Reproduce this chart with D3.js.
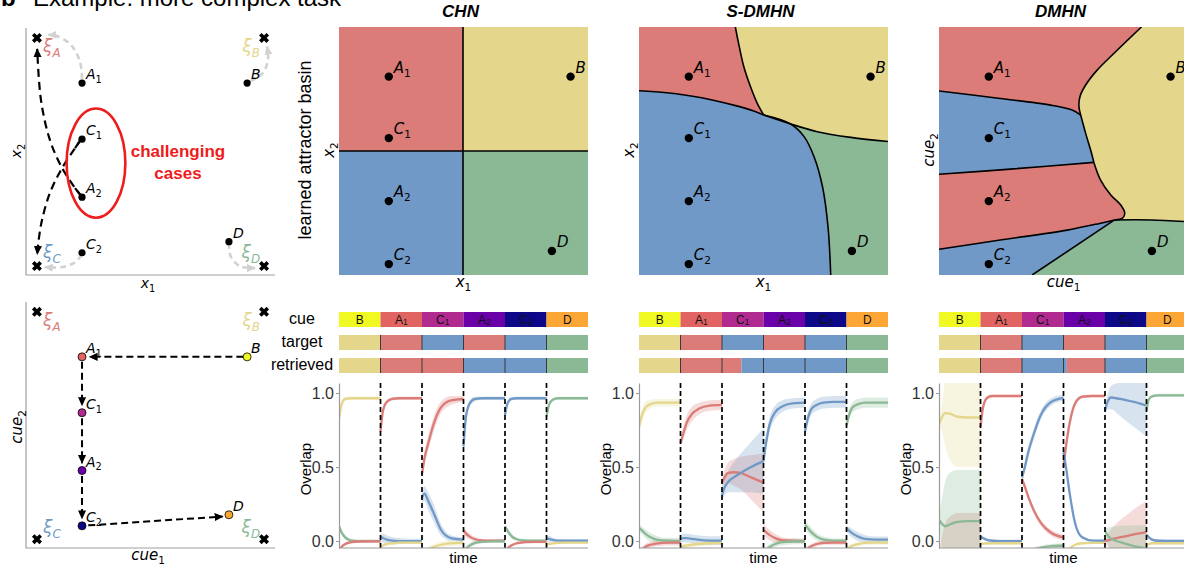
<!DOCTYPE html>
<html lang="en">
<head>
<meta charset="UTF-8">
<title>more complex task</title>
<script src="https://d3js.org/d3.v7.min.js"></script>
<style>
    body { margin: 0; background: #fff; }
    svg { display: block; font-family: "Liberation Sans", Arial, sans-serif; }
    .math { font-family: "DejaVu Sans", sans-serif; font-style: italic; }
</style>
</head>
<body>
<svg width="1184" height="566"></svg>
<script>
// ---------- data ----------
const patterns = ["A", "B", "C", "D"];
const patternColors = ["#db7c78", "#e4d68b", "#7199c7", "#8bb996"];

const pointNames = ["A1", "B", "C1", "A2", "C2", "D"];
const pointPlasma = [0.6, 1.0, 0.4, 0.2, 0.0, 0.8];
// sketch panels (left column)
const sketchX = [0.225, 0.888, 0.225, 0.225, 0.225, 0.815];
const sketchY = [0.777, 0.777, 0.55, 0.315, 0.09, 0.135];
const xiX = [0.044, 0.956, 0.044, 0.956];
const xiY = [0.96, 0.96, 0.036, 0.036];
// basin panels
const basinX = [0.2, 0.93, 0.2, 0.2, 0.2, 0.855];
const basinY = [0.8, 0.8, 0.552, 0.298, 0.044, 0.097];

// top-left sketch: drift paths
const grayPaths = [
    [[0.225, 0.794], [0.217, 0.862], [0.181, 0.931], [0.124, 0.968], [0.09, 0.972]],
    [[0.9, 0.785], [0.948, 0.814], [0.972, 0.87], [0.968, 0.925]],
    [[0.225, 0.081], [0.193, 0.049], [0.145, 0.032], [0.075, 0.032]],
    [[0.815, 0.13], [0.823, 0.073], [0.859, 0.036], [0.92, 0.028]]
];
const blackPaths = [
    [[0.225, 0.316], [0.197, 0.352], [0.145, 0.433], [0.096, 0.547], [0.06, 0.709], [0.045, 0.915]],
    [[0.225, 0.555], [0.197, 0.514], [0.145, 0.433], [0.096, 0.332], [0.06, 0.202], [0.045, 0.085]]
];
const hardCases = { cx: 0.281, cy: 0.453, rx: 0.118, ry: 0.221 };
// bottom-left sketch: cue sequence arrows
const cueArrows = [
    [[0.873, 0.777], [0.255, 0.777]],
    [[0.225, 0.757], [0.225, 0.58]],
    [[0.225, 0.527], [0.225, 0.345]],
    [[0.225, 0.293], [0.225, 0.12]],
    [[0.25, 0.092], [0.79, 0.128]]
];

// basin boundaries
const chnV = [[0.498, 0], [0.498, 1]];
const chnH = [[0, 0.5], [1, 0.5]];

const sdRY = [[0.387, 1], [0.4, 0.934], [0.421, 0.84], [0.448, 0.759], [0.475, 0.692], [0.501, 0.645]];
const sdRB = [[0, 0.743], [0.112, 0.735], [0.246, 0.716], [0.38, 0.685], [0.461, 0.661], [0.501, 0.645]];
const sdYG = [[0.501, 0.645], [0.609, 0.609], [0.716, 0.578], [0.851, 0.555], [1, 0.538]];
const sdBG = [[0.501, 0.645], [0.609, 0.609], [0.663, 0.558], [0.703, 0.477], [0.737, 0.356], [0.759, 0.195], [0.77, 0]];

const dmY1 = [[0.813, 1], [0.703, 0.894], [0.636, 0.827], [0.589, 0.766], [0.566, 0.719], [0.562, 0.679], [0.569, 0.645]];
const dmY2 = [[0.569, 0.645], [0.589, 0.571], [0.609, 0.504], [0.622, 0.454]];
const dmY3 = [[0.622, 0.454], [0.649, 0.383], [0.69, 0.323], [0.73, 0.282], [0.746, 0.249], [0.737, 0.229], [0.705, 0.222]];
const dmYG = [[0.705, 0.222], [0.851, 0.222], [1, 0.215]];
const dmAC1 = [[0, 0.742], [0.246, 0.712], [0.448, 0.685], [0.535, 0.665], [0.569, 0.645]];
const dmCA2 = [[0, 0.406], [0.3, 0.428], [0.622, 0.454]];
const dmAC2 = [[0, 0.104], [0.246, 0.141], [0.515, 0.181], [0.645, 0.208], [0.705, 0.222]];
const dmCG = [[0.705, 0.222], [0.374, 0]];

// cue sequence
const cueLabels = ["B", "A1", "C1", "A2", "C2", "D"];
const cuePlasma = [1.0, 0.6, 0.4, 0.2, 0.0, 0.8];
const targets = ["B", "A", "C", "A", "C", "D"];
const retrievedCHN = [[0, 1, "B"], [1, 2, "A"], [2, 3, "A"], [3, 4, "C"], [4, 5, "C"], [5, 6, "D"]];
const retrievedSDMHN = [[0, 1, "B"], [1, 2, "A"], [2, 2.47, "A"], [2.47, 3, "C"], [3, 4, "C"], [4, 5, "C"], [5, 6, "D"]];
const retrievedDMHN = [[0, 1, "B"], [1, 2, "A"], [2, 3, "C"], [3, 3.08, "C"], [3.08, 4, "A"], [4, 5, "C"], [5, 6, "D"]];

// overlap traces: [segment, pattern, mean at tFrac, spread at tFrac]
const tFrac = [0, 0.06, 0.15, 0.28, 0.45, 0.7, 1];
const overlapCHN = [
    [0, "B", [0.82, 0.92, 0.96, 0.965, 0.965, 0.965, 0.965], [0.03, 0.02, 0.015, 0.01, 0.01, 0.01, 0.01]],
    [0, "D", [0.1, 0.06, 0.025, 0.005, 0, 0, 0], [0.015, 0.015, 0.015, 0.012, 0.01, 0.01, 0.01]],
    [0, "A", [-0.07, -0.04, -0.02, -0.008, -0.003, -0.002, -0.002], [0.01, 0.01, 0.01, 0.01, 0.01, 0.01, 0.01]],
    [1, "A", [0.74, 0.88, 0.94, 0.96, 0.965, 0.965, 0.965], [0.02, 0.02, 0.015, 0.01, 0.01, 0.01, 0.01]],
    [1, "C", [0.03, 0.02, 0.01, 0.003, 0, 0, 0], [0.02, 0.03, 0.03, 0.025, 0.02, 0.015, 0.015]],
    [1, "B", [-0.035, -0.03, -0.02, -0.015, -0.01, -0.01, -0.01], [0.01, 0.01, 0.01, 0.01, 0.01, 0.01, 0.01]],
    [2, "A", [0.45, 0.56, 0.66, 0.79, 0.9, 0.95, 0.96], [0.02, 0.04, 0.05, 0.05, 0.04, 0.03, 0.02]],
    [2, "C", [0.29, 0.32, 0.27, 0.19, 0.08, 0.02, 0.01], [0.03, 0.05, 0.06, 0.06, 0.04, 0.02, 0.015]],
    [2, "B", [-0.09, -0.08, -0.06, -0.04, -0.025, -0.015, -0.01], [0.02, 0.02, 0.02, 0.02, 0.02, 0.02, 0.02]],
    [3, "C", [0.64, 0.84, 0.93, 0.96, 0.965, 0.965, 0.965], [0.02, 0.03, 0.02, 0.015, 0.01, 0.01, 0.01]],
    [3, "A", [0.07, 0.05, 0.03, 0.012, 0.004, 0.002, 0.002], [0.02, 0.025, 0.02, 0.015, 0.01, 0.01, 0.01]],
    [3, "D", [-0.07, -0.05, -0.03, -0.012, -0.005, -0.002, -0.002], [0.015, 0.015, 0.015, 0.015, 0.01, 0.01, 0.01]],
    [4, "C", [0.85, 0.93, 0.96, 0.965, 0.965, 0.965, 0.965], [0.015, 0.015, 0.012, 0.01, 0.01, 0.01, 0.01]],
    [4, "D", [0.1, 0.07, 0.035, 0.012, 0.004, 0.002, 0.002], [0.015, 0.015, 0.015, 0.012, 0.01, 0.01, 0.01]],
    [4, "A", [-0.07, -0.05, -0.03, -0.015, -0.008, -0.005, -0.005], [0.01, 0.01, 0.01, 0.01, 0.01, 0.01, 0.01]],
    [5, "D", [0.84, 0.92, 0.955, 0.965, 0.965, 0.965, 0.965], [0.015, 0.015, 0.012, 0.01, 0.01, 0.01, 0.01]],
    [5, "C", [0.02, 0.015, 0.008, 0.003, 0.002, 0.002, 0.002], [0.02, 0.02, 0.015, 0.01, 0.01, 0.01, 0.01]],
    [5, "B", [-0.02, -0.02, -0.015, -0.012, -0.01, -0.01, -0.01], [0.01, 0.01, 0.01, 0.01, 0.01, 0.01, 0.01]]
];
const overlapSDMHN = [
    [0, "B", [0.77, 0.84, 0.9, 0.925, 0.935, 0.935, 0.935], [0.03, 0.04, 0.04, 0.03, 0.025, 0.025, 0.025]],
    [0, "D", [0.09, 0.075, 0.05, 0.025, 0.008, 0.002, 0], [0.02, 0.025, 0.03, 0.03, 0.025, 0.02, 0.02]],
    [0, "A", [-0.07, -0.06, -0.04, -0.025, -0.015, -0.01, -0.01], [0.02, 0.02, 0.02, 0.02, 0.02, 0.02, 0.02]],
    [1, "A", [0.66, 0.72, 0.8, 0.86, 0.895, 0.915, 0.92], [0.02, 0.04, 0.05, 0.05, 0.04, 0.035, 0.035]],
    [1, "C", [0.015, 0.02, 0.02, 0.015, 0.008, 0.003, 0.002], [0.03, 0.03, 0.03, 0.03, 0.03, 0.03, 0.03]],
    [1, "B", [-0.04, -0.035, -0.03, -0.025, -0.02, -0.015, -0.012], [0.015, 0.015, 0.015, 0.015, 0.015, 0.015, 0.015]],
    [2, "A", [0.39, 0.43, 0.46, 0.465, 0.46, 0.43, 0.395], [0.03, 0.05, 0.07, 0.09, 0.11, 0.15, 0.2]],
    [2, "C", [0.31, 0.36, 0.4, 0.43, 0.46, 0.5, 0.54], [0.03, 0.05, 0.07, 0.1, 0.13, 0.17, 0.22]],
    [3, "C", [0.54, 0.66, 0.79, 0.87, 0.91, 0.93, 0.935], [0.05, 0.05, 0.05, 0.045, 0.04, 0.035, 0.035]],
    [3, "A", [0.075, 0.06, 0.04, 0.02, 0.006, 0.002, 0], [0.04, 0.04, 0.035, 0.03, 0.02, 0.015, 0.015]],
    [3, "D", [-0.08, -0.06, -0.04, -0.02, -0.008, -0.003, -0.002], [0.02, 0.02, 0.02, 0.02, 0.02, 0.02, 0.02]],
    [4, "C", [0.74, 0.82, 0.89, 0.92, 0.935, 0.94, 0.94], [0.04, 0.04, 0.04, 0.04, 0.04, 0.04, 0.04]],
    [4, "D", [0.11, 0.09, 0.06, 0.03, 0.01, 0.003, 0.002], [0.02, 0.03, 0.03, 0.025, 0.02, 0.015, 0.015]],
    [4, "A", [-0.07, -0.05, -0.035, -0.02, -0.012, -0.01, -0.01], [0.015, 0.015, 0.015, 0.015, 0.015, 0.015, 0.015]],
    [5, "D", [0.78, 0.85, 0.905, 0.925, 0.935, 0.935, 0.935], [0.035, 0.035, 0.035, 0.035, 0.035, 0.035, 0.035]],
    [5, "C", [0.085, 0.07, 0.05, 0.03, 0.015, 0.01, 0.01], [0.02, 0.025, 0.03, 0.03, 0.025, 0.02, 0.02]],
    [5, "B", [-0.06, -0.045, -0.03, -0.02, -0.012, -0.01, -0.01], [0.015, 0.015, 0.015, 0.015, 0.015, 0.015, 0.015]]
];
const overlapDMHN = [
    [0, "A", [-0.08, -0.08, -0.08, -0.08, -0.08, -0.08, -0.08], [0.02, 0.1, 0.2, 0.25, 0.27, 0.27, 0.27]],
    [0, "B", [0.79, 0.83, 0.865, 0.86, 0.84, 0.835, 0.835], [0.03, 0.08, 0.22, 0.32, 0.34, 0.335, 0.335]],
    [0, "D", [0.145, 0.12, 0.1, 0.115, 0.13, 0.135, 0.135], [0.02, 0.15, 0.3, 0.35, 0.35, 0.345, 0.345]],
    [1, "A", [0.77, 0.9, 0.965, 0.98, 0.98, 0.98, 0.98], [0.02, 0.015, 0.01, 0.008, 0.008, 0.008, 0.008]],
    [1, "C", [0.03, 0.02, 0.008, 0.002, 0, 0, 0], [0.01, 0.01, 0.01, 0.01, 0.01, 0.01, 0.01]],
    [1, "B", [-0.02, -0.018, -0.015, -0.015, -0.015, -0.015, -0.015], [0.008, 0.008, 0.008, 0.008, 0.008, 0.008, 0.008]],
    [2, "C", [0.43, 0.49, 0.6, 0.72, 0.85, 0.94, 0.968], [0.02, 0.03, 0.035, 0.035, 0.03, 0.025, 0.02]],
    [2, "A", [0.42, 0.375, 0.3, 0.21, 0.124, 0.056, 0.024], [0.02, 0.02, 0.02, 0.02, 0.02, 0.02, 0.02]],
    [2, "D", [-0.12, -0.11, -0.09, -0.06, -0.045, -0.035, -0.03], [0.015, 0.015, 0.015, 0.015, 0.015, 0.015, 0.015]],
    [3, "A", [0.5, 0.64, 0.8, 0.93, 0.975, 0.98, 0.98], [0.03, 0.04, 0.035, 0.02, 0.01, 0.008, 0.008]],
    [3, "C", [0.6, 0.5, 0.32, 0.12, 0.025, 0.003, 0.002], [0.03, 0.03, 0.03, 0.02, 0.01, 0.008, 0.008]],
    [3, "B", [-0.1, -0.08, -0.05, -0.025, -0.015, -0.012, -0.012], [0.008, 0.008, 0.008, 0.008, 0.008, 0.008, 0.008]],
    [4, "C", [0.88, 0.94, 0.97, 0.965, 0.955, 0.94, 0.915], [0.03, 0.05, 0.08, 0.1, 0.13, 0.17, 0.21]],
    [4, "A", [0, 0.005, 0.012, 0.02, 0.03, 0.045, 0.06], [0.01, 0.04, 0.07, 0.1, 0.13, 0.17, 0.21]],
    [4, "D", [0.07, 0.04, 0.016, 0, -0.015, -0.035, -0.05], [0.02, 0.05, 0.08, 0.1, 0.12, 0.14, 0.16]],
    [5, "D", [0.88, 0.96, 0.98, 0.985, 0.985, 0.985, 0.985], [0.01, 0.01, 0.01, 0.01, 0.01, 0.01, 0.01]],
    [5, "C", [0.045, 0.025, 0.008, 0.002, 0.001, 0.001, 0.001], [0.01, 0.01, 0.01, 0.01, 0.01, 0.01, 0.01]],
    [5, "B", [-0.03, -0.02, -0.015, -0.015, -0.015, -0.015, -0.015], [0.008, 0.008, 0.008, 0.008, 0.008, 0.008, 0.008]]
];
const overlapTicks = [0, 0.5, 1];

// ---------- drawing ----------
const svg = d3.select("svg");
const defs = svg.append("defs");
const colorOf = p => patternColors[patterns.indexOf(p)];

function arrowMarker(id, color) {
    defs.append("marker").attr("id", id)
        .attr("viewBox", "0 0 10 10").attr("refX", 9).attr("refY", 5)
        .attr("markerWidth", 9).attr("markerHeight", 9)
        .attr("markerUnits", "userSpaceOnUse").attr("orient", "auto")
        .append("path").attr("d", "M0,0.5L10,5L0,9.5Z").attr("fill", color);
}
arrowMarker("headBlack", "#000");
arrowMarker("headGray", "#d2d2d2");

function mathText(g, x, y, base, subscript, size, color, anchor, rotate) {
    const t = g.append("text").attr("class", "math")
        .style("font-size", size + "px")
        .attr("fill", color || "#000")
        .attr("text-anchor", anchor || "start");
    if (rotate) t.attr("transform", `translate(${x},${y}) rotate(-90)`);
    else t.attr("x", x).attr("y", y);
    t.append("tspan").text(base);
    if (subscript) {
        t.append("tspan").attr("dy", size * 0.28)
            .style("font-size", (size * 0.7) + "px")
            .style("font-style", /^\d$/.test(subscript) ? "normal" : "italic")
            .text(subscript);
    }
    return t;
}

// title (cut at the top edge)
svg.append("text").attr("x", 1).attr("y", 6).style("font-size", "24px").style("font-weight", "bold").text("b");
svg.append("text").attr("x", 33).attr("y", 6).style("font-size", "24px").text("Example: more complex task");

// ---- left column sketches ----
const sx = d3.scaleLinear().domain([0, 1]).range([26, 275]);

function sketchFrame(top, bottom) {
    const y = d3.scaleLinear().domain([0, 1]).range([bottom, top]);
    const g = svg.append("g");
    g.append("path")
        .attr("d", `M${sx(0)},${y(1)}V${y(0)}H${sx(1)}`)
        .attr("fill", "none").attr("stroke", "#a0a0a0").attr("stroke-width", 1.2);
    const cross = d3.symbol(d3.symbolTimes, 38);
    g.selectAll("path.xi").data(patterns).join("path").attr("class", "xi")
        .attr("transform", (d, i) => `translate(${sx(xiX[i])},${y(xiY[i])})`)
        .attr("d", cross).attr("stroke", "#000").attr("stroke-width", 3.6).attr("fill", "none");
    return { g, y };
}

// top-left: x space
{
    const { g, y } = sketchFrame(28, 275);
    const curve = d3.line().x(d => sx(d[0])).y(d => y(d[1])).curve(d3.curveCatmullRom);
    g.selectAll("path.gray").data(grayPaths).join("path").attr("class", "gray")
        .attr("d", curve).attr("fill", "none").attr("stroke", "#d2d2d2")
        .attr("stroke-width", 2.6).attr("stroke-dasharray", "6,4")
        .attr("marker-end", "url(#headGray)");
    blackPaths.forEach(p => {
        g.append("path").attr("d", curve(p)).attr("fill", "none").attr("stroke", "#000")
            .attr("stroke-width", 2.2).attr("stroke-dasharray", "8,5")
            .attr("marker-end", "url(#headBlack)");
        g.append("path").attr("d", d3.line().x(d => sx(d[0])).y(d => y(d[1]))(p.slice(0, 2)))
            .attr("stroke", "#000").attr("stroke-width", 2.2);
    });
    g.append("ellipse")
        .attr("cx", sx(hardCases.cx)).attr("cy", y(hardCases.cy))
        .attr("rx", sx(hardCases.rx) - sx(0)).attr("ry", y(0) - y(hardCases.ry))
        .attr("fill", "none").attr("stroke", "#ee1c1c").attr("stroke-width", 2.6);
    g.append("text").attr("x", 178).attr("y", 157).attr("text-anchor", "middle")
        .style("font-size", "17px").style("font-weight", "bold").attr("fill", "#ee1c1c").text("challenging");
    g.append("text").attr("x", 178).attr("y", 179).attr("text-anchor", "middle")
        .style("font-size", "17px").style("font-weight", "bold").attr("fill", "#ee1c1c").text("cases");
    g.selectAll("circle").data(pointNames).join("circle")
        .attr("cx", (d, i) => sx(sketchX[i])).attr("cy", (d, i) => y(sketchY[i]))
        .attr("r", 3.6).attr("fill", "#000");
    pointNames.forEach((n, i) => mathText(g, sx(sketchX[i]) + 4, y(sketchY[i]) - 4, n[0], n.slice(1), 14));
    patterns.forEach((p, i) => {
        const right = xiX[i] > 0.5;
        mathText(g, sx(xiX[i]) + (right ? -4 : 6), y(xiY[i]) + (xiY[i] > 0.5 ? 14 : -8), "ξ", p, 17,
            patternColors[i], right ? "end" : "start");
    });
    mathText(g, 148, 288, "x", "1", 14, "#000", "middle");
    mathText(g, 21, 151, "x", "2", 14, "#000", "middle", true);
}

// bottom-left: cue space
{
    const { g, y } = sketchFrame(302, 548);
    cueArrows.forEach(a => {
        g.append("path").attr("d", d3.line().x(d => sx(d[0])).y(d => y(d[1]))(a))
            .attr("fill", "none").attr("stroke", "#000").attr("stroke-width", 2)
            .attr("stroke-dasharray", "7,4").attr("marker-end", "url(#headBlack)");
    });
    g.selectAll("circle").data(pointNames).join("circle")
        .attr("cx", (d, i) => sx(sketchX[i])).attr("cy", (d, i) => y(sketchY[i]))
        .attr("r", 4).attr("fill", (d, i) => d3.interpolatePlasma(pointPlasma[i]))
        .attr("stroke", "#000").attr("stroke-width", 0.8);
    pointNames.forEach((n, i) => mathText(g, sx(sketchX[i]) + 4, y(sketchY[i]) - 4, n[0], n.slice(1), 14));
    patterns.forEach((p, i) => {
        const right = xiX[i] > 0.5;
        mathText(g, sx(xiX[i]) + (right ? -4 : 6), y(xiY[i]) + (xiY[i] > 0.5 ? 14 : -6), "ξ", p, 17,
            patternColors[i], right ? "end" : "start");
    });
    mathText(g, 148, 560, "cue", "1", 15, "#000", "middle");
    mathText(g, 22, 427, "cue", "2", 15, "#000", "middle", true);
}

// ---- basin panels ----
const panelLefts = [339, 639, 939];
const panelW = 249;

function basinPanel(k, title, xName, yName, bg, regions, bounds) {
    const left = panelLefts[k];
    const g = svg.append("g").attr("transform", `translate(${left},0)`);
    const x = d3.scaleLinear().domain([0, 1]).range([0, panelW]);
    const y = d3.scaleLinear().domain([0, 1]).range([275, 27]);
    const smooth = d3.line().x(d => x(d[0])).y(d => y(d[1])).curve(d3.curveCatmullRom.alpha(0.5));
    const clipId = "basinClip" + k;
    defs.append("clipPath").attr("id", clipId).append("rect")
        .attr("x", x(0)).attr("y", y(1)).attr("width", x(1) - x(0)).attr("height", y(0) - y(1));
    const inner = g.append("g").attr("clip-path", `url(#${clipId})`);
    inner.append("rect").attr("x", x(0)).attr("y", y(1))
        .attr("width", x(1) - x(0)).attr("height", y(0) - y(1)).attr("fill", colorOf(bg));
    regions.forEach(r => {
        let s = r.parts.map((p, i) => { const d = smooth(p); return i ? "L" + d.slice(1) : d; }).join("");
        r.corners.forEach(c => { s += (s ? "L" : "M") + x(c[0]) + "," + y(c[1]); });
        inner.append("path").attr("d", s + "Z").attr("fill", colorOf(r.fill));
    });
    inner.selectAll("path.bound").data(bounds).join("path").attr("class", "bound")
        .attr("d", smooth).attr("fill", "none").attr("stroke", "#000").attr("stroke-width", 1.6);
    g.selectAll("circle").data(pointNames).join("circle")
        .attr("cx", (d, i) => x(basinX[i])).attr("cy", (d, i) => y(basinY[i]))
        .attr("r", 4.2).attr("fill", "#000");
    pointNames.forEach((n, i) => mathText(g, x(basinX[i]) + 5, y(basinY[i]) - 4, n[0], n.slice(1), 15));
    g.append("text").attr("x", x(0.5) - 3).attr("y", 17).attr("text-anchor", "middle")
        .style("font-size", "17px").style("font-weight", "bold").style("font-style", "italic").text(title);
    mathText(g, x(0.5), 287, xName, "1", 15, "#000", "middle");
    mathText(g, -5, 150, yName, "2", 15, "#000", "middle", true);
}

basinPanel(0, "CHN", "x", "x", "C", [
    { fill: "A", parts: [], corners: [[0, 1], [chnV[1][0], 1], [chnV[1][0], chnH[0][1]], [0, chnH[0][1]]] },
    { fill: "B", parts: [], corners: [[chnV[1][0], 1], [1, 1], [1, chnH[1][1]], [chnV[1][0], chnH[1][1]]] },
    { fill: "D", parts: [], corners: [[chnV[0][0], 0], [1, 0], [1, chnH[1][1]], [chnV[0][0], chnH[1][1]]] }
], [chnV, chnH]);

basinPanel(1, "S-DMHN", "x", "x", "C", [
    { fill: "A", parts: [sdRY, sdRB.slice().reverse()], corners: [[0, 1]] },
    { fill: "B", parts: [sdRY, sdYG], corners: [[1, 1]] },
    { fill: "D", parts: [sdBG.slice().reverse(), sdYG], corners: [[1, 0]] }
], [sdRY, sdRB, sdYG, sdBG]);

basinPanel(2, "DMHN", "cue", "cue", "C", [
    { fill: "A", parts: [dmY1, dmAC1.slice().reverse()], corners: [[0, 1]] },
    { fill: "B", parts: [dmY1, dmY2, dmY3, dmYG], corners: [[1, 1]] },
    { fill: "A", parts: [dmCA2, dmY3, dmAC2.slice().reverse()], corners: [] },
    { fill: "D", parts: [dmCG.slice().reverse(), dmYG], corners: [[1, 0]] }
], [dmY1, dmY2, dmY3, dmYG, dmAC1, dmCA2, dmAC2, dmCG]);

svg.append("text").attr("transform", "translate(311,150) rotate(-90)")
    .attr("text-anchor", "middle").style("font-size", "18px").text("learned attractor basin");

// ---- cue / target / retrieved bars ----
const rowY = [312, 335, 358];
const rowH = 15;
["cue", "target", "retrieved"].forEach((t, i) => {
    svg.append("text").attr("x", 302).attr("y", rowY[i] + 12).attr("text-anchor", "middle")
        .style("font-size", "16px").text(t);
});

function barPanel(k, retrieved) {
    const g = svg.append("g").attr("transform", `translate(${panelLefts[k]},0)`);
    const x = d3.scaleLinear().domain([0, 6]).range([0, panelW]);
    g.selectAll("rect.cue").data(cueLabels).join("rect").attr("class", "cue")
        .attr("x", (d, i) => x(i)).attr("y", rowY[0]).attr("width", x(1) - x(0)).attr("height", rowH)
        .attr("fill", (d, i) => d3.interpolatePlasma(cuePlasma[i]));
    cueLabels.forEach((c, i) => {
        const t = g.append("text").attr("x", x(i + 0.5)).attr("y", rowY[0] + 11.5)
            .attr("text-anchor", "middle").style("font-size", "12px").attr("fill", "#111");
        t.append("tspan").text(c[0]);
        if (c.length > 1) t.append("tspan").attr("dy", 1.5).style("font-size", "8.5px").text(c.slice(1));
    });
    g.selectAll("rect.target").data(targets).join("rect").attr("class", "target")
        .attr("x", (d, i) => x(i)).attr("y", rowY[1]).attr("width", x(1) - x(0)).attr("height", rowH)
        .attr("fill", d => colorOf(d));
    g.selectAll("rect.ret").data(retrieved).join("rect").attr("class", "ret")
        .attr("x", d => x(d[0])).attr("y", rowY[2]).attr("width", d => x(d[1]) - x(d[0])).attr("height", rowH)
        .attr("fill", d => colorOf(d[2]));
    [1, 2].forEach(r => {
        g.selectAll(null).data(d3.range(1, 6)).join("line")
            .attr("x1", d => x(d)).attr("x2", d => x(d))
            .attr("y1", rowY[r]).attr("y2", rowY[r] + rowH)
            .attr("stroke", "#3a3a3a").attr("stroke-width", 1);
    });
}
barPanel(0, retrievedCHN);
barPanel(1, retrievedSDMHN);
barPanel(2, retrievedDMHN);

// ---- overlap plots ----
function overlapPanel(k, rows) {
    const g = svg.append("g").attr("transform", `translate(${panelLefts[k]},0)`);
    const x = d3.scaleLinear().domain([0, 6]).range([0, panelW]);
    const y = d3.scaleLinear().domain([-0.047, 1.068]).range([548, 383]);
    const clipId = "ovClip" + k;
    defs.append("clipPath").attr("id", clipId).append("rect")
        .attr("x", 0).attr("y", y.range()[1]).attr("width", panelW).attr("height", y.range()[0] - y.range()[1]);
    const inner = g.append("g").attr("clip-path", `url(#${clipId})`);
    const pts = r => tFrac.map((t, i) => ({ t: r[0] + t, m: r[2][i], s: r[3][i] }));
    const band = d3.area().x(d => x(d.t)).y0(d => y(d.m - d.s)).y1(d => y(d.m + d.s)).curve(d3.curveMonotoneX);
    const mean = d3.line().x(d => x(d.t)).y(d => y(d.m)).curve(d3.curveMonotoneX);
    inner.selectAll("path.band").data(rows).join("path").attr("class", "band")
        .attr("d", r => band(pts(r))).attr("fill", r => colorOf(r[1])).attr("fill-opacity", 0.28);
    inner.selectAll("path.mean").data(rows).join("path").attr("class", "mean")
        .attr("d", r => mean(pts(r))).attr("fill", "none")
        .attr("stroke", r => colorOf(r[1])).attr("stroke-width", 2.3);
    g.selectAll("line.sep").data(d3.range(1, 6)).join("line").attr("class", "sep")
        .attr("x1", d => x(d)).attr("x2", d => x(d))
        .attr("y1", y.range()[1]).attr("y2", y.range()[0])
        .attr("stroke", "#000").attr("stroke-width", 1.7).attr("stroke-dasharray", "5,3");
    const ax = g.append("g").call(d3.axisLeft(y).tickValues(overlapTicks).tickFormat(d3.format(".1f"))
        .tickSize(3).tickPadding(2).tickSizeOuter(0));
    ax.select(".domain").attr("stroke", "#9a9a9a").attr("stroke-width", 1.2);
    ax.selectAll(".tick line").attr("stroke", "#9a9a9a");
    ax.selectAll(".tick text").style("font-size", "16px").style("font-family", "Liberation Sans, Arial, sans-serif").attr("fill", "#333");
    g.append("line").attr("x1", 0).attr("x2", panelW).attr("y1", y.range()[0]).attr("y2", y.range()[0])
        .attr("stroke", "#9a9a9a").attr("stroke-width", 1.2);
    g.append("text").attr("transform", `translate(-28,${(y(0) + y(1)) / 2 + 2}) rotate(-90)`)
        .attr("text-anchor", "middle").style("font-size", "15px").text("Overlap");
    g.append("text").attr("x", x(3)).attr("y", 563).attr("text-anchor", "middle")
        .style("font-size", "15px").text("time");
}
overlapPanel(0, overlapCHN);
overlapPanel(1, overlapSDMHN);
overlapPanel(2, overlapDMHN);
</script>
</body>
</html>
